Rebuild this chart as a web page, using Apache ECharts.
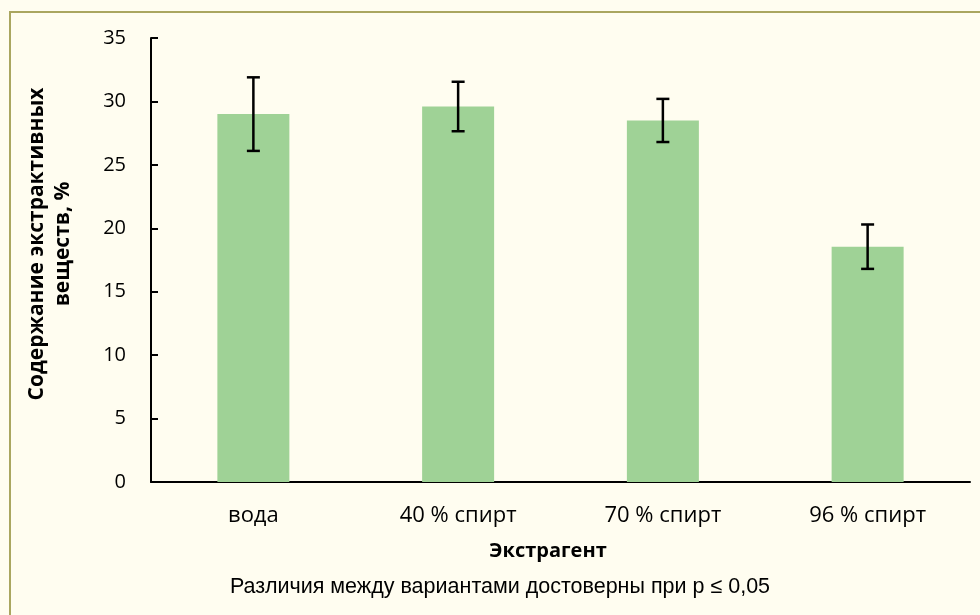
<!DOCTYPE html>
<html>
<head>
<meta charset="utf-8">
<script src="https://cdn.jsdelivr.net/npm/echarts@6/dist/echarts.min.js"></script>
<style>
  html, body { margin: 0; padding: 0; background: #fffdf0; }
  #holder { width: 980px; height: 615px; }
</style>
</head>
<body>
<div id="holder"></div>
<script>
// категории и значения
var categories = ['вода', '40 % спирт', '70 % спирт', '96 % спирт']
var values = [29.0, 29.6, 28.5, 18.55]
var errors = [2.9, 1.95, 1.7, 1.75]
var yTicks = [0, 5, 10, 15, 20, 25, 30, 35]

var errData = values.map((v, i) => [i, v - errors[i], v + errors[i]])

var myChart = echarts.init(document.getElementById('holder'))

var option = {
  backgroundColor: '#fffdf0',
  animation: false,
  grid: { left: 151, right: 10, top: 38, bottom: 133 },
  graphic: [
    {
      type: 'rect',
      shape: { x: 10, y: 12, width: 1000, height: 700 },
      style: { fill: 'none', stroke: '#aaa660', lineWidth: 2 },
      z: -1
    },
    {
      // подпись оси Y
      type: 'text',
      x: 50,
      y: 244,
      rotation: Math.PI / 2,
      style: {
        text: 'Содержание экстрактивных\nвеществ, %',
        x: 0,
        y: 0,
        align: 'center',
        verticalAlign: 'middle',
        font: 'bold 21px "Open Sans", sans-serif',
        lineHeight: 26,
        fill: '#000'
      }
    },
    {
      // подпись оси X
      type: 'text',
      x: 548,
      y: 551,
      style: {
        text: 'Экстрагент',
        x: 0,
        y: 0,
        align: 'center',
        verticalAlign: 'middle',
        font: 'bold 20px "Open Sans", sans-serif',
        fill: '#000'
      }
    },
    {
      type: 'text',
      x: 500,
      y: 587,
      style: {
        text: 'Различия между вариантами достоверны при р ≤ 0,05',
        x: 0,
        y: 0,
        align: 'center',
        verticalAlign: 'middle',
        font: '21.5px "Liberation Sans", Arial, sans-serif',
        fill: '#000'
      }
    }
  ],
  xAxis: {
    type: 'category',
    data: categories,
    axisLine: { lineStyle: { color: '#000', width: 2 } },
    axisTick: { inside: true, length: 6, lineStyle: { color: '#000', width: 2 } },
    axisLabel: { fontFamily: 'Open Sans', fontSize: 22, color: '#000', margin: 23 }
  },
  yAxis: {
    type: 'value',
    min: yTicks[0],
    max: yTicks[yTicks.length - 1],
    interval: 5,
    axisLine: { show: true, lineStyle: { color: '#000', width: 2 } },
    axisTick: { show: true, inside: true, length: 7, lineStyle: { color: '#000', width: 2 } },
    splitLine: { show: false },
    axisLabel: { fontFamily: 'Open Sans', fontSize: 20, color: '#000', margin: 25 }
  },
  series: [
    {
      type: 'bar',
      data: values,
      barWidth: 72,
      itemStyle: { color: '#9fd296' }
    },
    {
      type: 'custom',
      data: errData,
      z: 10,
      renderItem: function (params, api) {
        var i = api.value(0)
        var lo = api.coord([i, api.value(1)])
        var hi = api.coord([i, api.value(2)])
        var x = lo[0]
        var w = 6.5
        var st = { stroke: '#000', lineWidth: 2.5 }
        return {
          type: 'group',
          children: [
            { type: 'line', shape: { x1: x, y1: hi[1], x2: x, y2: lo[1] }, style: st },
            { type: 'line', shape: { x1: x - w, y1: hi[1], x2: x + w, y2: hi[1] }, style: st },
            { type: 'line', shape: { x1: x - w, y1: lo[1], x2: x + w, y2: lo[1] }, style: st }
          ]
        }
      }
    }
  ]
}

myChart.setOption(option)
</script>
</body>
</html>
